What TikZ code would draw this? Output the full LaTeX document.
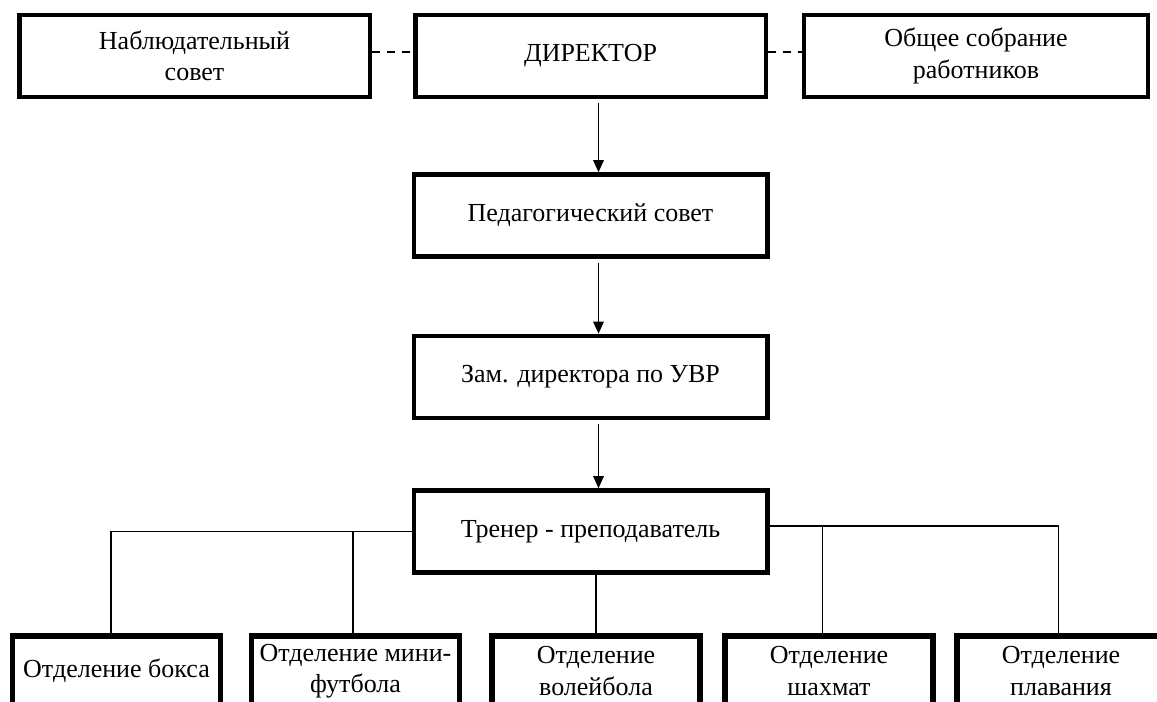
\documentclass[tikz,border=0pt]{standalone}
\usepackage{fontspec}
\setmainfont{Liberation Serif}
\usetikzlibrary{arrows.meta, positioning}

\begin{document}
\begin{tikzpicture}[
	x=0.75pt, y=-0.75pt,
	font=\fontsize{19.5}{23.5}\selectfont,
	box/.style={
		draw,
		rectangle,
		line width=3.5pt,
		align=center,
		minimum width=263pt,
		minimum height=61.5pt,
		inner sep=2pt
	},
	deptbox/.style={
		draw,
		rectangle,
		line width=4pt,
		align=center,
		minimum width=156pt,
		minimum height=52.5pt,
		inner sep=2pt
	},
	arrow/.style={-{Triangle[length=9pt, width=8pt]}, line width=0.8pt, shorten <=3pt},
	link/.style={line width=1.1pt},
	dashlink/.style={line width=1.1pt, dash pattern=on 6pt off 5pt}
	]
	\useasboundingbox (0,0) rectangle (1157,702);
	\clip (0,0) rectangle (1157,702);
	
	% Верхний ряд
	\node[box] (dir) at (590.5,56) {ДИРЕКТОР};
	\node[box] (nabl) at (194.5,56) {Наблюдательный\\совет};
	\node[box, minimum width=258pt] (sobr) at (976,56) {Общее собрание\\работников};
	
	% Центральная колонка
	\node[box, minimum width=265pt] (ped) at (590.5,215.5) {Педагогический совет};
	\node[box, minimum width=265pt] (zam) at (590.5,377) {Зам. директора по УВР};
	\node[box, minimum width=265pt] (trener) at (590.5,531.5) {Тренер - преподаватель};
	
	% Отделения
	\node[deptbox] (boks) at (116.5,671) {Отделение бокса};
	\node[deptbox] (futbol) at (355.5,671) {Отделение мини-\\футбола};
	\node[deptbox] (volei) at (596,671) {Отделение\\волейбола};
	\node[deptbox] (shah) at (829,671) {Отделение\\шахмат};
	\node[deptbox] (plav) at (1061,671) {Отделение\\плавания};
	
	% Связи
	\draw[dashlink] ([yshift=3pt]nabl.east) -- ([yshift=3pt]dir.west);
	\draw[dashlink] ([yshift=3pt]dir.east) -- ([yshift=3pt]sobr.west);
	
	\draw[arrow] ([xshift=6pt]dir.south) -- ([xshift=6pt]ped.north);
	\draw[arrow] ([xshift=6pt]ped.south) -- ([xshift=6pt]zam.north);
	\draw[arrow] ([xshift=6pt]zam.south) -- ([xshift=6pt]trener.north);
	
	\draw[link] (trener.west) -| ([xshift=-4pt]boks.north);
	\draw[link] ([xshift=-2pt]futbol.north) |- (trener.west);
	\draw[link] (trener.south -| volei.north) -- (volei.north);
	\draw[link] ([yshift=4pt]trener.east) -| ([xshift=-2pt]plav.north);
	\draw[link] ([xshift=-5pt]shah.north) |- ([yshift=4pt]trener.east);
	
\end{tikzpicture}
\end{document}
